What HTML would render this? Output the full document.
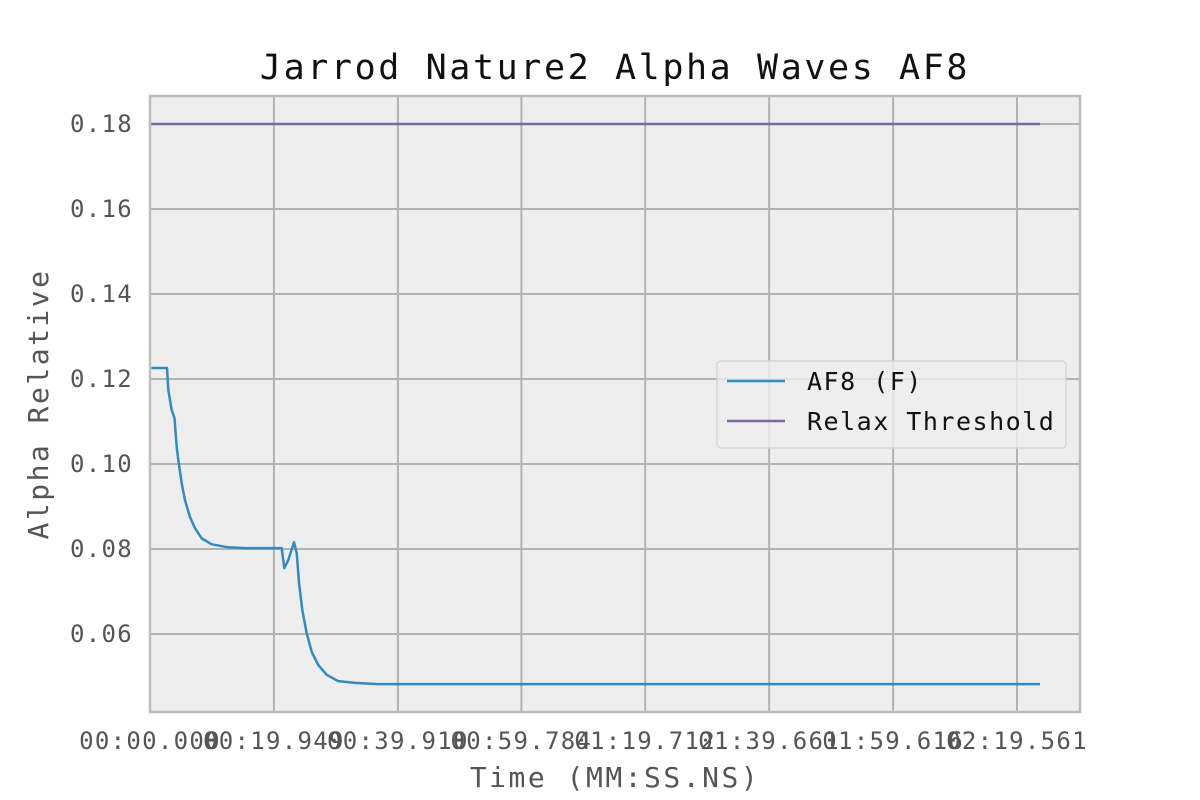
<!DOCTYPE html>
<html><head><meta charset="utf-8"><style>
body{margin:0;background:#fff;}
svg{display:block;font-family:"DejaVu Sans Mono","Liberation Mono",monospace;}
</style></head><body>
<svg id="chart" width="1200" height="800">
<rect x="150" y="96" width="930" height="616" fill="#eeeeee"/>
<g id="grid"></g>
<g id="series"></g>
<rect x="150" y="96" width="930" height="616" fill="none" stroke="#bcbcbc" stroke-width="2.5"/>
<g id="ticks"></g>
<text x="615" y="79" text-anchor="middle" font-size="35" letter-spacing="2.6" fill="#111">Jarrod Nature2 Alpha Waves AF8</text>
<text x="615" y="787" text-anchor="middle" font-size="28" letter-spacing="2.5" fill="#555">Time (MM:SS.NS)</text>
<text transform="translate(48,404) rotate(-90)" text-anchor="middle" font-size="28" letter-spacing="2.5" fill="#555">Alpha Relative</text>
<g>
<rect x="717" y="361" width="349" height="87" rx="4" fill="#eeeeee" fill-opacity="0.8" stroke="#d6d6d6" stroke-width="1.5"/>
<line x1="727" y1="381" x2="785" y2="381" stroke="#348ABD" stroke-width="2.5"/>
<text x="807" y="390" font-size="25" letter-spacing="1.5" fill="#111">AF8 (F)</text>
<line x1="727" y1="421" x2="785" y2="421" stroke="#7A68A6" stroke-width="2.5"/>
<text x="807" y="430" font-size="25" letter-spacing="1.5" fill="#111">Relax Threshold</text>
</g>
</svg>
<script>
const times=[0.2,2.74,2.95,3.49,3.94,4.3,4.56,5.10,5.63,6.44,7.24,8.32,9.93,12.56,15.29,21.2,21.62,22.26,23.18,23.62,23.99,24.52,25.22,26.03,27.09,28.44,30.31,33.0,36.7,143.27];
const af8=[0.1226,0.1226,0.1174,0.1127,0.1108,0.1040,0.1009,0.0955,0.0915,0.0875,0.0849,0.0825,0.0811,0.0804,0.0802,0.0802,0.0755,0.0774,0.0816,0.0790,0.0720,0.0656,0.0602,0.0558,0.0527,0.0504,0.0489,0.0485,0.0482,0.0482];
const threshold=[0.18,0.18];
const thresholdTimes=[0.2,143.27];
const xTickValues=[0,19.949,39.910,59.784,79.712,99.661,119.616,139.561];
const xTickLabels=["00:00.000","00:19.949","00:39.910","00:59.784","01:19.712","01:39.661","01:59.616","02:19.561"];
const yTickValues=[0.06,0.08,0.10,0.12,0.14,0.16,0.18];
const yTickLabels=["0.06","0.08","0.10","0.12","0.14","0.16","0.18"];
const NS="http://www.w3.org/2000/svg";
const X0=150,X1=1080,Y0=712,Y1=96;
const xMin=0,xMax=(1080-150)/(867/139.561);
const yMin=0.18-588/4250,yMax=0.18+28/4250;
const sx=t=>X0+(t-xMin)/(xMax-xMin)*(X1-X0);
const sy=v=>Y0-(v-yMin)/(yMax-yMin)*(Y0-Y1);
function mk(tag,attrs,parent){const e=document.createElementNS(NS,tag);for(const k in attrs)e.setAttribute(k,attrs[k]);parent.appendChild(e);return e;}
const grid=document.getElementById('grid'),ticks=document.getElementById('ticks'),series=document.getElementById('series');
xTickValues.forEach((v,i)=>{
  const x=sx(v);
  const g=mk('line',{x1:x,x2:x,y1:Y1,y2:Y0,stroke:'#b2b2b2','stroke-width':2},grid);
  
  
  const t=mk('text',{x:x,y:749,'text-anchor':'middle','font-size':24,'letter-spacing':1.3,fill:'#555'},ticks);
  t.textContent=xTickLabels[i];
  
  
});
yTickValues.forEach((v,i)=>{
  const y=sy(v);
  const g=mk('line',{x1:X0,x2:X1,y1:y,y2:y,stroke:'#b2b2b2','stroke-width':2},grid);
  
  
  const t=mk('text',{x:133,y:y+8,'text-anchor':'end','font-size':24,'letter-spacing':1.3,fill:'#555'},ticks);
  t.textContent=yTickLabels[i];
  
  
});
const thr=mk('polyline',{points:thresholdTimes.map((t,i)=>sx(t)+','+sy(threshold[i])).join(' '),fill:'none',stroke:'#7A68A6','stroke-width':2.5},series);


const ln=mk('polyline',{points:times.map((t,i)=>sx(t)+','+sy(af8[i])).join(' '),fill:'none',stroke:'#348ABD','stroke-width':2.5,'stroke-linejoin':'round'},series);


</script>
</body></html>
